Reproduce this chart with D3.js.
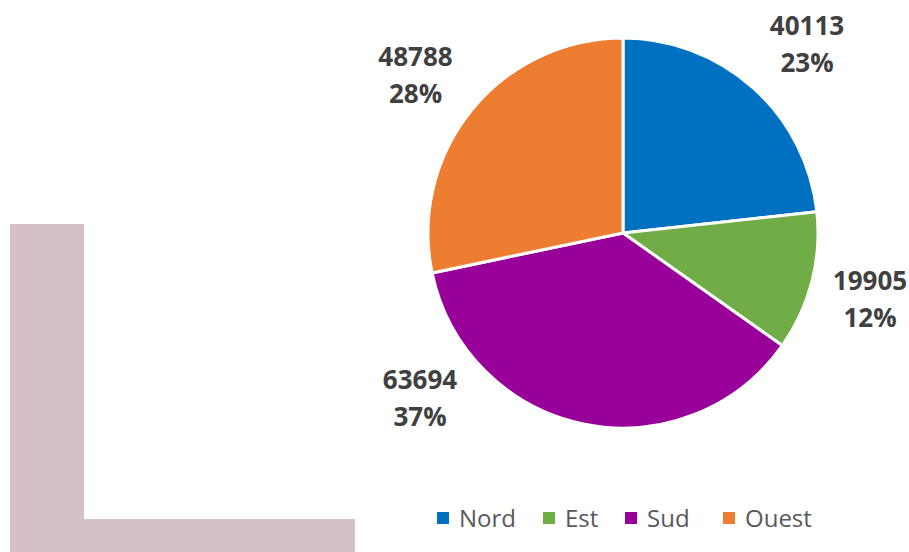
<!DOCTYPE html>
<html>
<head>
<meta charset="utf-8">
<script src="https://cdn.jsdelivr.net/npm/d3@7"></script>
<style>
html,body{margin:0;padding:0;background:#fff;}
svg{display:block;}
</style>
</head>
<body>
<svg id="chart" width="909" height="552"></svg>
<script>
const categories = ["Nord", "Est", "Sud", "Ouest"];
const values = [40113, 19905, 63694, 48788];
const colors = ["#0070C0", "#70AD47", "#990099", "#ED7D31"];
const percentLabels = ["23%", "12%", "37%", "28%"];

const svg = d3.select("#chart");

// decorative L shape
svg.append("path")
  .attr("d", "M10,224 H84 V519 H355 V552 H10 Z")
  .attr("fill", "#d5c1c5");

const cx = 623, cy = 233, r = 195;
const data = categories.map((c, i) => ({cat: c, value: values[i], color: colors[i], pct: percentLabels[i]}));

const pie = d3.pie().value(d => d.value).sort(null);
const arc = d3.arc().innerRadius(0).outerRadius(r);
const arcs = pie(data);

const g = svg.append("g").attr("transform", `translate(${cx},${cy})`);
g.selectAll("path.slice").data(arcs).enter().append("path")
  .attr("class", "slice")
  .attr("d", arc)
  .attr("fill", d => d.data.color)
  .attr("stroke", "#fff")
  .attr("stroke-width", 3)
  .attr("stroke-linejoin", "round");

// label offsets from the pie centre (layout only)
const labelOffsets = [[184, -198.5], [247, 56.5], [-203, 155.5], [-207.5, -167]];
const labels = g.selectAll("g.lbl").data(arcs).enter().append("g").attr("class", "lbl")
  .attr("transform", (d, i) => `translate(${labelOffsets[i][0]},${labelOffsets[i][1]})`);
labels.append("text")
  .attr("text-anchor", "middle")
  .attr("y", 0)
  .attr("font-family", "'Open Sans', sans-serif")
  .attr("font-weight", "bold")
  .attr("font-size", 26)
  .attr("fill", "#404040")
  .text(d => d.data.value);
labels.append("text")
  .attr("text-anchor", "middle")
  .attr("y", 37)
  .attr("font-family", "'Open Sans', sans-serif")
  .attr("font-weight", "bold")
  .attr("font-size", 26)
  .attr("fill", "#404040")
  .text(d => d.data.pct);

// legend
const legendX = [437, 543, 625, 723];
const legend = svg.append("g");
const items = legend.selectAll("g").data(data).enter().append("g")
  .attr("transform", (d, i) => `translate(${legendX[i]},512)`);
items.append("rect").attr("width", 12).attr("height", 12).attr("fill", d => d.color);
items.append("text")
  .attr("x", 22).attr("y", 15)
  .attr("font-family", "'Open Sans', sans-serif")
  .attr("font-size", 24)
  .attr("fill", "#595959")
  .text(d => d.cat);
</script>
</body>
</html>
